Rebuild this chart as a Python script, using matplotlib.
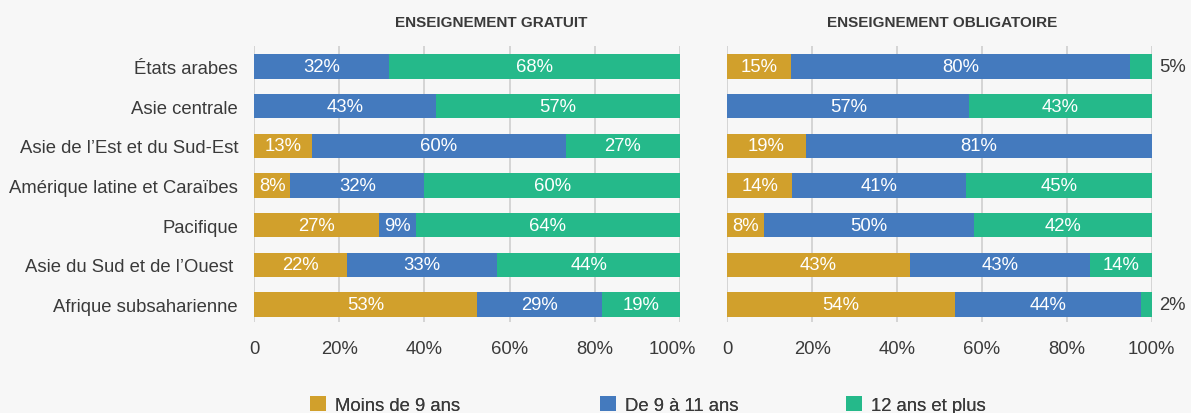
import matplotlib
matplotlib.use("Agg")
import matplotlib.pyplot as plt
from matplotlib.patches import Patch
from matplotlib.transforms import ScaledTranslation

plt.rcParams['font.family'] = ['Liberation Sans', 'DejaVu Sans']

# ---------------- data ----------------
regions = ["États arabes", "Asie centrale", "Asie de l’Est et du Sud-Est",
           "Amérique latine et Caraïbes", "Pacifique",
           "Asie du Sud et de l’Ouest ", "Afrique subsaharienne"]

series_names = ["Moins de 9 ans", "De 9 à 11 ans", "12 ans et plus"]

# Enseignement gratuit (bar widths, %)
gratuit_moins9 = [0, 0, 13.6, 8.5, 29.3, 21.9, 52.4]
gratuit_9a11 = [31.7, 42.7, 59.6, 31.5, 8.7, 35.2, 29.4]
gratuit_12plus = [68.3, 57.3, 26.8, 60.0, 62.0, 42.9, 18.2]
# printed labels
gratuit_lab_moins9 = [0, 0, 13, 8, 27, 22, 53]
gratuit_lab_9a11 = [32, 43, 60, 32, 9, 33, 29]
gratuit_lab_12plus = [68, 57, 27, 60, 64, 44, 19]

# Enseignement obligatoire (bar widths, %)
oblig_moins9 = [15.0, 0, 18.5, 15.3, 8.6, 43.0, 53.6]
oblig_9a11 = [80.0, 57.0, 81.5, 40.9, 49.6, 42.5, 43.9]
oblig_12plus = [5.0, 43.0, 0, 43.8, 41.8, 14.5, 2.5]
# printed labels
oblig_lab_moins9 = [15, 0, 19, 14, 8, 43, 54]
oblig_lab_9a11 = [80, 57, 81, 41, 50, 43, 44]
oblig_lab_12plus = [5, 43, 0, 45, 42, 14, 2]

x_ticks = [0, 20, 40, 60, 80, 100]
x_ticklabels = ["0", "20%", "40%", "60%", "80%", "100%"]

titles = ["ENSEIGNEMENT GRATUIT", "ENSEIGNEMENT OBLIGATOIRE"]

# ---------------- style ----------------
colors = ["#D1A02C", "#447ABE", "#25B98A"]
bg = "#F7F7F7"
text_col = "#3A3A3A"
grid_col = "#CFCFCF"
fs = 13.3

W, H = 1191, 414
fig = plt.figure(figsize=(W / 100, H / 100), dpi=100, facecolor=bg)

bottom = 1 - 322.7 / H
top = 1 - 46.7 / H
axL = fig.add_axes([254 / W, bottom, (680 - 254) / W, top - bottom])
axR = fig.add_axes([727.3 / W, bottom, (1151.7 - 727.3) / W, top - bottom])

panels = [
    (axL, [gratuit_moins9, gratuit_9a11, gratuit_12plus],
     [gratuit_lab_moins9, gratuit_lab_9a11, gratuit_lab_12plus]),
    (axR, [oblig_moins9, oblig_9a11, oblig_12plus],
     [oblig_lab_moins9, oblig_lab_9a11, oblig_lab_12plus]),
]

ypos = list(range(len(regions)))

for ax, vals, labs in panels:
    ax.set_facecolor(bg)
    left = [0.0] * len(regions)
    for s, (v, lab) in enumerate(zip(vals, labs)):
        ax.barh(ypos, v, left=left, height=0.62, color=colors[s],
                edgecolor='none', zorder=2)
        for i in range(len(regions)):
            if v[i] <= 0:
                continue
            if v[i] < 6:
                ax.text(101.7, ypos[i], f"{lab[i]}%", ha='left', va='center',
                        fontsize=fs, color=text_col, clip_on=False)
            else:
                ax.text(left[i] + v[i] / 2, ypos[i], f"{lab[i]}%", ha='center',
                        va='center', fontsize=fs, color='white', zorder=3)
        left = [a + b for a, b in zip(left, v)]
    ax.set_xlim(0, 100)
    ax.set_ylim(6.434, -0.525)
    ax.set_xticks(x_ticks)
    ax.set_xticklabels(x_ticklabels)
    ax.tick_params(axis='x', length=0, pad=13.5, labelsize=fs, labelcolor=text_col)
    ax.grid(axis='x', color=grid_col, linewidth=1.2, zorder=0)
    ax.set_axisbelow(True)
    for sp in ax.spines.values():
        sp.set_visible(False)

axL.set_yticks(ypos)
axL.set_yticklabels(regions)
axL.tick_params(axis='y', length=0, pad=11.5, labelsize=fs, labelcolor=text_col)
axR.set_yticks([])

# shift the left "100%" label slightly left as in the reference
lbl = axL.get_xticklabels()[-1]
lbl.set_transform(lbl.get_transform() + ScaledTranslation(-8 / 100, 0, fig.dpi_scale_trans))

# titles
fig.text(491 / W, 1 - 22.8 / H, titles[0], ha='center', va='center',
         fontsize=11, fontweight='bold', color=text_col)
fig.text(942 / W, 1 - 22.8 / H, titles[1], ha='center', va='center',
         fontsize=11, fontweight='bold', color=text_col)

# legend (three entries at their own positions)
leg_x = [310, 600, 846]
for name, c, x in zip(series_names, colors, leg_x):
    leg = fig.legend(handles=[Patch(facecolor=c, edgecolor='none')], labels=[name],
                     loc='center left', bbox_to_anchor=(x / W, 1 - 406 / H),
                     frameon=False, fontsize=fs, handlelength=0.865,
                     handleheight=0.865, handletextpad=0.49,
                     borderpad=0, borderaxespad=0, labelcolor=text_col)
    fig.add_artist(leg)

fig.savefig("out.png", dpi=100, facecolor=bg)
